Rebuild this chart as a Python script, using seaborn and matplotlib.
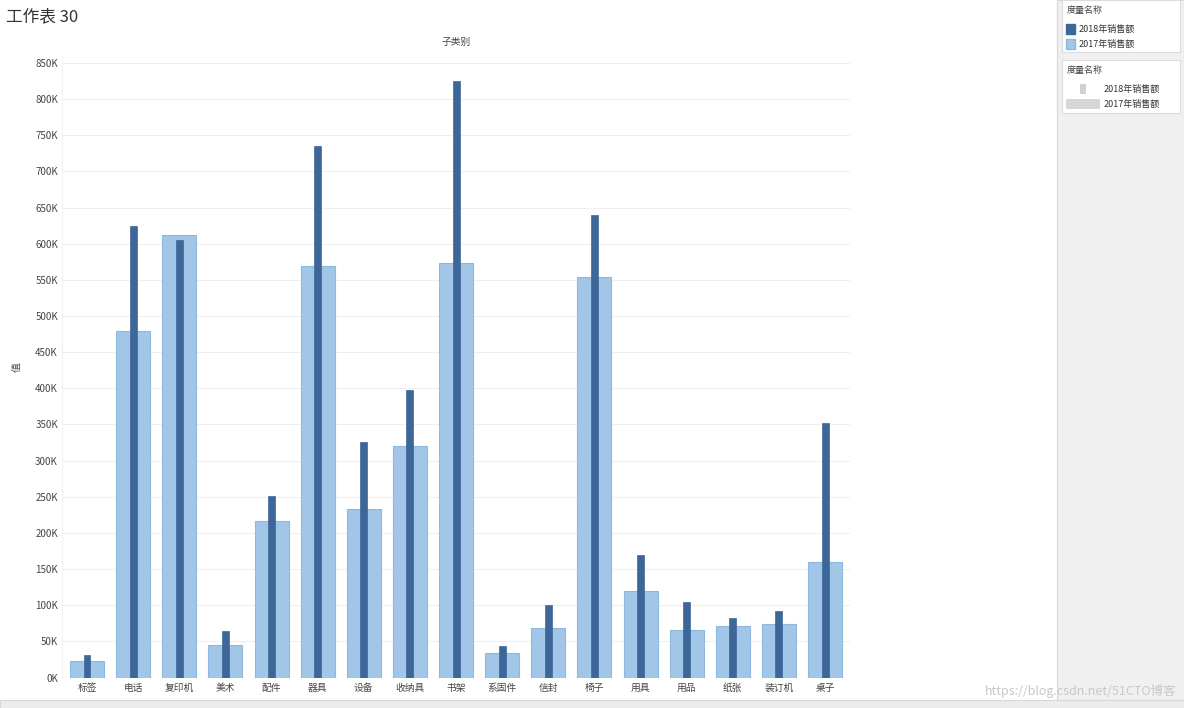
import matplotlib
matplotlib.use("Agg")
import matplotlib.pyplot as plt
from matplotlib.patches import Rectangle
from matplotlib.ticker import FuncFormatter, MultipleLocator
import seaborn as sns
import pandas as pd

categories = ["标签", "电话", "复印机", "美术", "配件", "器具", "设备", "收纳具", "书架",
              "系固件", "信封", "椅子", "用具", "用品", "纸张", "装订机", "桌子"]
sales_2017 = [22800, 479000, 611700, 45000, 216500, 569600, 233000, 320000, 574000,
              33900, 68900, 554000, 119000, 65700, 71000, 74500, 160000]
sales_2018 = [30700, 625000, 605000, 64000, 251000, 735000, 326000, 398000, 825000,
              43600, 100000, 640000, 169000, 104000, 82000, 92400, 352000]

legend_title = "度量名称"
series_names = ["2018年销售额", "2017年销售额"]

LIGHT = "#a2c6e7"
LIGHT_EDGE = "#8fb8de"
DARK = "#3d6798"

sns.set_theme(style="white")
plt.rcParams["font.family"] = ["Noto Sans CJK SC", "DejaVu Sans"]

W, H = 1184, 708
fig = plt.figure(figsize=(W / 100, H / 100), dpi=100)
fig.patch.set_facecolor("white")

def fx(x):
    return x / W

def fy(y):
    return 1 - y / H

# Axes placement (pixel based)
left, right = 62, 850
base, top = 677.5, 55.8
ax = fig.add_axes([fx(left), fy(base), fx(right - left), (base - top) / H])

df = pd.DataFrame({"子类别": categories, "2017": sales_2017, "2018": sales_2018})

sns.barplot(data=df, x="子类别", y="2017", order=categories, color=LIGHT,
            width=0.737, edgecolor=LIGHT_EDGE, linewidth=0.8, saturation=1, ax=ax)
sns.barplot(data=df, x="子类别", y="2018", order=categories, color=DARK,
            width=0.15, edgecolor=DARK, linewidth=0.5, saturation=1, ax=ax)

ax.set_ylim(0, 860000)
ax.set_xlim(-0.542, 16.54)
ax.yaxis.set_major_locator(MultipleLocator(50000))
ax.yaxis.set_major_formatter(FuncFormatter(lambda v, p: f"{int(round(v / 1000))}K"))
ax.grid(axis="y", color="#efefef", linewidth=0.8)
ax.set_axisbelow(True)
for s in ["top", "right", "bottom"]:
    ax.spines[s].set_visible(False)
ax.spines["left"].set_color("#f2f2f2")
ax.spines["left"].set_linewidth(0.8)
ax.tick_params(axis="both", length=0, labelsize=7, colors="#444444")
ax.tick_params(axis="y", pad=3)
ax.tick_params(axis="x", pad=4)
ax.set_ylabel("值", fontsize=7, color="#444444", labelpad=10)
ax.set_xlabel("子类别", fontsize=7, color="#444444", labelpad=8)
ax.xaxis.set_label_position("top")

# Title
fig.text(fx(6), fy(17), "工作表 30", fontsize=12, fontweight="medium", color="#333333",
         va="center", ha="left")

# Right panel
fig.patches.append(Rectangle((fx(1057), fy(700)), fx(W - 1057), 700 / H,
                             transform=fig.transFigure, facecolor="#f0f0f0",
                             edgecolor="#d8d8d8", linewidth=0.8, zorder=0))
# bottom strip
fig.patches.append(Rectangle((0, 0), 1, 8 / H, transform=fig.transFigure,
                             facecolor="#ececec", edgecolor="#d8d8d8", linewidth=0.8, zorder=0))

for (y0, y1) in [(0, 52), (60, 113)]:
    fig.patches.append(Rectangle((fx(1062), fy(y1)), fx(1180 - 1062), (y1 - y0) / H,
                                 transform=fig.transFigure, facecolor="white",
                                 edgecolor="#dcdcdc", linewidth=0.8, zorder=1))

fs = 6.5
fig.text(fx(1067), fy(10), legend_title, fontsize=fs, color="#444444", va="center")
fig.patches.append(Rectangle((fx(1066), fy(34)), fx(9), 10 / H, transform=fig.transFigure,
                             facecolor=DARK, edgecolor=DARK, zorder=2))
fig.text(fx(1079), fy(29), series_names[0], fontsize=fs, color="#333333", va="center")
fig.patches.append(Rectangle((fx(1066), fy(49)), fx(9), 10 / H, transform=fig.transFigure,
                             facecolor=LIGHT, edgecolor=LIGHT_EDGE, zorder=2))
fig.text(fx(1079), fy(44), series_names[1], fontsize=fs, color="#333333", va="center")

fig.text(fx(1067), fy(70), legend_title, fontsize=fs, color="#444444", va="center")
fig.patches.append(Rectangle((fx(1080), fy(94)), fx(6), 10 / H, transform=fig.transFigure,
                             facecolor="#d0d0d0", edgecolor="none", zorder=2))
fig.text(fx(1104), fy(89), series_names[0], fontsize=fs, color="#333333", va="center")
fig.patches.append(Rectangle((fx(1066), fy(109)), fx(34), 10 / H, transform=fig.transFigure,
                             facecolor="#d6d6d6", edgecolor="none", zorder=2))
fig.text(fx(1104), fy(104), series_names[1], fontsize=fs, color="#333333", va="center")

# Watermark
fig.text(fx(1176), fy(691), "https://blog.csdn.net/51CTO博客", fontsize=9,
         color="#c8c8c8", ha="right", va="center")

fig.savefig("out.png", dpi=100)
